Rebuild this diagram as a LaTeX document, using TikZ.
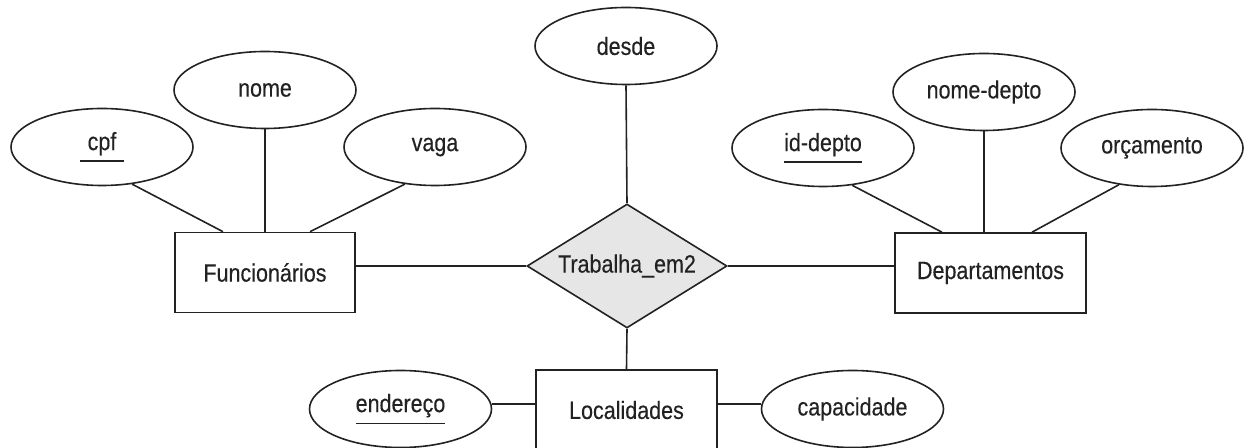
\documentclass[tikz,border=0pt]{standalone}
\usepackage{fontspec}
\setmainfont[FakeStretch=0.86,FakeBold=0.3]{Liberation Sans}
\usetikzlibrary{shapes.geometric}
\definecolor{ink}{HTML}{222222}
\definecolor{relfill}{HTML}{E6E6E6}
\newcommand{\keyu}[2][0pt]{\setbox0\hbox{\kern#1#2\kern#1}\vtop{\copy0\kern2.6pt\hrule height 0.75pt width \wd0}}
\begin{document}
\begin{tikzpicture}[x=0.5pt,y=-0.5pt,
  every node/.style={font=\fontsize{12.5}{15}\selectfont, text=ink},
  entity/.style={draw=ink, line width=0.8pt, rectangle, inner sep=0pt, minimum height=40pt},
  attr/.style={draw=ink, line width=0.8pt, ellipse, inner sep=0pt, minimum width=91pt, minimum height=38.5pt},
  rel/.style={draw=ink, line width=0.8pt, diamond, aspect=1.6, fill=relfill, inner sep=0pt, minimum width=100pt, minimum height=62pt},
  link/.style={draw=ink, line width=0.8pt}]
\useasboundingbox (0,0) rectangle (1249,448);
% entities and relationship
\node[entity, minimum width=90pt] (func) at (265,272.5) {Funcionários};
\node[entity, minimum width=95.5pt] (dept) at (990.5,273) {Departamentos};
\node[entity, minimum width=90.5pt] (loc) at (626.5,410) {Localidades};
\node[rel] (rel) at (627,266) {Trabalha\_em2};
% attributes
\node[attr] (cpf) at (102,147) {\keyu[4pt]{cpf}};
\node[attr] (nome) at (265,90) {nome};
\node[attr] (vaga) at (435,147) {vaga};
\node[attr] (desde) at (626,46) {desde};
\node[attr] (iddepto) at (823,148) {\keyu{id-depto}};
\node[attr] (nomedepto) at (984,92) {nome-depto};
\node[attr] (orc) at (1152,148) {orçamento};
\node[attr] (ender) at (400.5,409) {\keyu{endereço}};
\node[attr] (cap) at (852.5,409) {capacidade};
% connectors
\draw[link] (cpf.-51) -- ([xshift=-21pt]func.north);
\draw[link] (nome.south) -- (nome.south |- func.north);
\draw[link] (vaga.-129) -- ([xshift=22.5pt]func.north);
\draw[link] (iddepto.-52) -- ([xshift=-24.25pt]dept.north);
\draw[link] (nomedepto.south) -- (nomedepto.south |- dept.north);
\draw[link] (orc.-132) -- ([xshift=20.75pt]dept.north);
\draw[link] (desde.south) -- (rel.north);
\draw[link] (rel.west) -- (rel.west -| func.east);
\draw[link] (rel.east) -- (rel.east -| dept.west);
\draw[link] (rel.south) -- (loc.north);
\coordinate (ly) at (0,404);
\draw[link] (ly -| ender.east) -- (ly -| loc.west);
\draw[link] (ly -| loc.east) -- (ly -| cap.west);
\end{tikzpicture}
\end{document}
